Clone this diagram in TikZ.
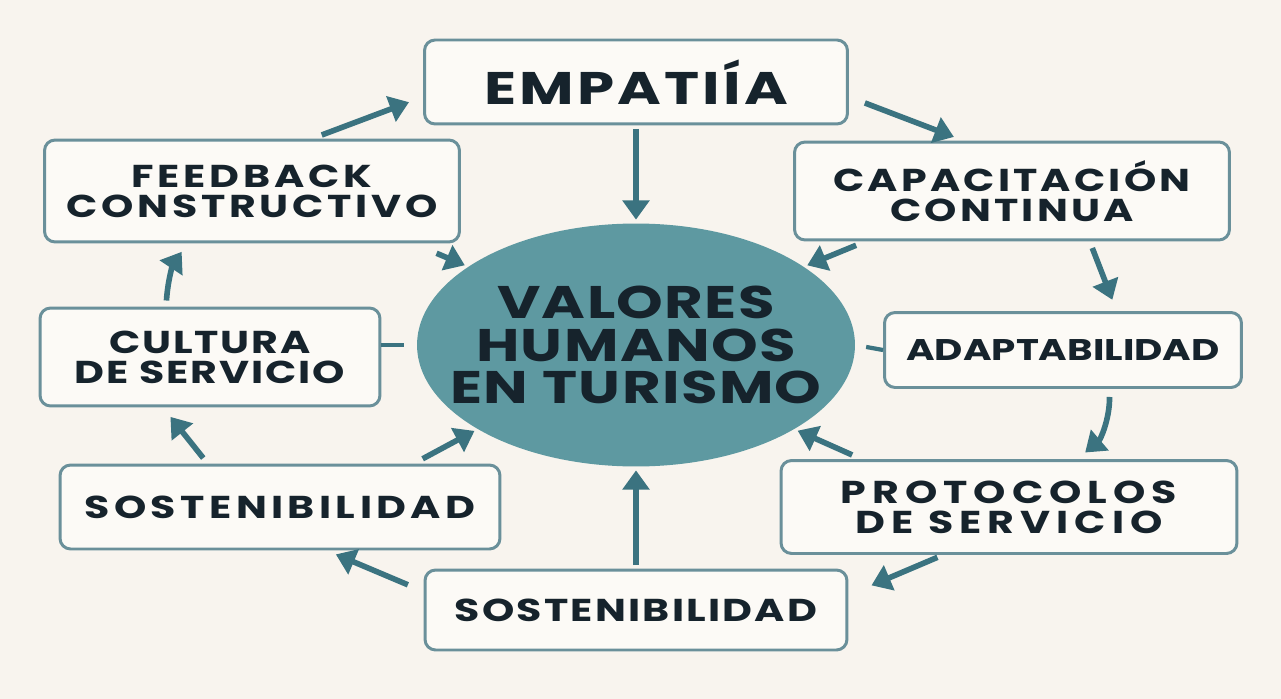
\documentclass[tikz,border=0pt]{standalone}
\usepackage{fontspec}
\setmainfont{Poppins}
\newfontfamily\wideface{Poppins}[FakeStretch=1.3]
\usetikzlibrary{arrows.meta,positioning,shapes.geometric}
\definecolor{bgcream}{HTML}{F8F4EE}
\definecolor{boxline}{HTML}{6A909A}
\definecolor{boxfill}{HTML}{FCFAF6}
\definecolor{hubfill}{HTML}{5E99A1}
\definecolor{flowteal}{HTML}{3B7380}
\definecolor{inktext}{HTML}{16232C}
\begin{document}
\begin{tikzpicture}[x=0.02cm,y=-0.02cm,
  valuebox/.style={rectangle,rounded corners=6pt,draw=boxline,line width=1.7pt,fill=boxfill,align=center,text=inktext,inner sep=0pt},
  spaced/.style={font=\wideface\bfseries\fontsize{18}{17}\selectfont\addfontfeature{LetterSpace=#1}},
  hub node/.style={ellipse,fill=hubfill,minimum width=8.76cm,minimum height=4.86cm,align=center,text=inktext,inner xsep=-0.9cm,inner ysep=0pt,font=\wideface\bfseries\fontsize{26}{24.4}\selectfont\addfontfeature{LetterSpace=3}},
  flow/.style={draw=flowteal,line width=3.2pt,-{Triangle[width=15pt,length=11pt]},shorten <=2pt,shorten >=2pt},
  link/.style={draw=flowteal,line width=2.4pt}]
\fill[bgcream] (0,0) rectangle (1281,699);
\useasboundingbox (0,0) rectangle (1281,699);
\begin{scope}
\node[hub node] (hub) at (636,345) {VALORES\\HUMANOS\\EN TURISMO};
\node[valuebox,minimum width=8.46cm,minimum height=1.68cm,font=\wideface\bfseries\fontsize{26}{24}\selectfont\addfontfeature{LetterSpace=7}] (emp) at (636,82) {EMPATIÍA};
\node[valuebox,spaced=10,minimum width=8.70cm,minimum height=1.96cm] (cap) at (1012,191) {CAPACITACIÓN\\CONTINUA};
\node[valuebox,spaced=0,font=\wideface\bfseries\fontsize{17}{17}\selectfont,minimum width=7.14cm,minimum height=1.50cm] (adap) at (1063,350) {ADAPTABILIDAD};
\node[valuebox,spaced=19,minimum width=9.12cm,minimum height=1.86cm] (prot) at (1009,507) {PROTOCOLOS\\DE SERVICIO};
\node[valuebox,spaced=7,minimum width=8.44cm,minimum height=1.60cm] (sosb) at (636,610) {SOSTENIBILIDAD};
\node[valuebox,spaced=14,minimum width=8.80cm,minimum height=1.68cm] (sosl) at (280,507) {SOSTENIBILIDAD};
\node[valuebox,spaced=6,minimum width=6.80cm,minimum height=1.96cm] (cult) at (210,357) {CULTURA\\DE SERVICIO};
\node[valuebox,spaced=12,minimum width=8.30cm,minimum height=2.04cm] (feed) at (252,191) {FEEDBACK\\CONSTRUCTIVO};
\end{scope}
\begin{scope}
% spokes into the hub
\draw[flow] (emp.south) -- (hub.north);
\draw[flow] (sosb.north) -- (hub.south);
\draw[flow,shorten <=0.5cm] (feed.-18) -- (hub.155);
\draw[flow,shorten <=0.2cm] (cap.199) -- (hub.25);
\draw[flow,shorten <=0.2cm] (sosl.18) -- (hub.-152);
\draw[flow,shorten <=0.2cm] (prot.162) -- (hub.-28);
\draw[link,shorten >=0.26cm] (cult.east |- hub.west) -- (hub.west);
\draw[link,shorten >=0.22cm] (adap.west) -- (hub.east);
% ring
\draw[flow,shorten <=0.2cm,shorten >=0.3cm] (feed.41) -- (emp.-176);
\draw[flow,shorten <=0.34cm,shorten >=0.2cm] (emp.-4) -- (cap.134);
\draw[flow,shorten <=0.14cm,shorten >=0.24cm] (cap.-33) -- (adap.36);
\draw[flow,shorten <=0.16cm,shorten >=0.2cm] (adap.-40) to[bend left=25] (prot.35);
\draw[flow,shorten <=0.12cm,shorten >=0.5cm] (prot.-144) -- (sosb.4);
\draw[flow,shorten <=0.34cm,shorten >=0.2cm] (sosb.175) -- (sosl.-43);
\draw[flow,shorten <=0.14cm,shorten >=0.24cm] (sosl.149) -- (cult.-133);
\draw[flow,shorten <=0.12cm,shorten >=0.2cm] (cult.131) to[bend left=15] (feed.-141);
\end{scope}
\end{tikzpicture}
\end{document}
